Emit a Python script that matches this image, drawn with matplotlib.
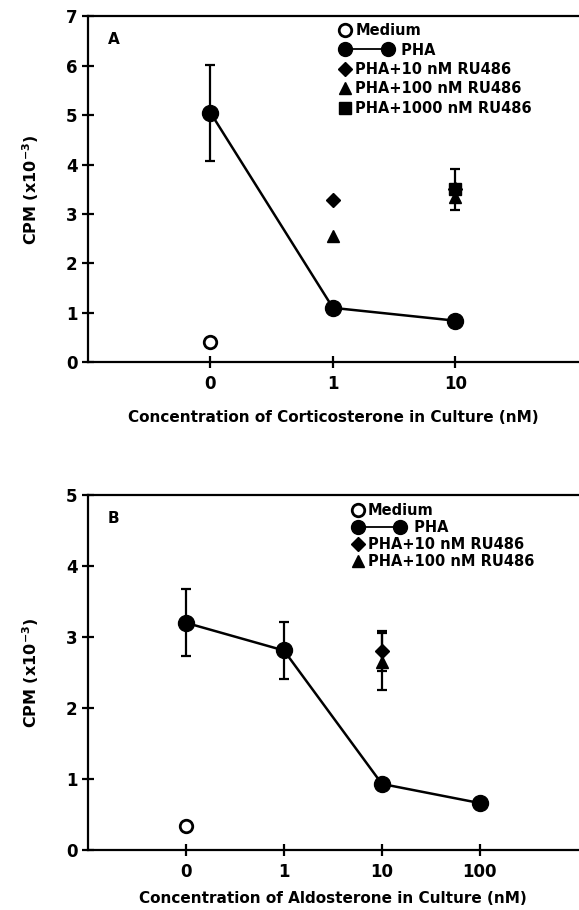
import numpy as np
import matplotlib
matplotlib.use('Agg')
import matplotlib.pyplot as plt
from matplotlib.lines import Line2D
from matplotlib.legend_handler import HandlerLine2D

plt.rcParams['font.family'] = 'DejaVu Sans'
plt.rcParams['font.weight'] = 'bold'
plt.rcParams['mathtext.default'] = 'bf'

# ---- panel A: corticosterone ----
a_ticks = ['0', '1', '10']
a_medium = [0.40]
a_pha = [5.05, 1.10, 0.84]
a_pha_err = [0.97, 0, 0]
a_ru10 = [None, 3.28, 3.50]
a_ru100 = [None, 2.55, 3.35]
a_ru1000 = [None, None, 3.50]
a_ru1000_err = [0, 0, 0.42]

# ---- panel B: aldosterone ----
b_ticks = ['0', '1', '10', '100']
b_medium = [0.34]
b_pha = [3.20, 2.81, 0.93, 0.66]
b_pha_err = [0.47, 0.40, 0, 0]
b_ru10 = [None, None, 2.80, None]
b_ru10_err = [0, 0, 0.28, 0]
b_ru100 = [None, None, 2.65, None]
b_ru100_err = [0, 0, 0.40, 0]


class LeftMarker(HandlerLine2D):
    # single marker at the left of the handle box
    def create_artists(self, legend, orig_handle, xdescent, ydescent,
                       width, height, fontsize, trans):
        y = height / 2 - ydescent
        m = Line2D([-xdescent + height * 0.45], [y])
        self.update_prop(m, orig_handle, legend)
        m.set_linestyle('none')
        m.set_transform(trans)
        return [m]


class PairMarker(HandlerLine2D):
    # marker ---- marker, longer than the box
    def create_artists(self, legend, orig_handle, xdescent, ydescent,
                       width, height, fontsize, trans):
        y = height / 2 - ydescent
        x0 = -xdescent + height * 0.45
        x1 = x0 + height * 4.2
        ln = Line2D([x0, x1], [y, y])
        self.update_prop(ln, orig_handle, legend)
        ln.set_marker('o')
        ln.set_markevery([0, 1])
        ln.set_transform(trans)
        return [ln]


def cleanup(seq):
    return np.array([np.nan if v is None else v for v in seq], dtype=float)


def style_axes(ax, ymax, ticks):
    ax.set_xlim(-1, len(ticks))
    ax.set_ylim(0, ymax)
    ax.set_xticks(range(len(ticks)))
    ax.set_xticklabels(ticks)
    ax.set_yticks(range(ymax + 1))
    ax.spines['right'].set_visible(False)
    for s in ['left', 'bottom', 'top']:
        ax.spines[s].set_linewidth(1.6)
    ax.tick_params(direction='inout', length=9, width=1.6, labelsize=12, pad=3)
    ax.tick_params(axis='x', pad=5)
    for lab in ax.get_xticklabels() + ax.get_yticklabels():
        lab.set_fontweight('bold')
    ax.set_ylabel('CPM (x10$^{-3}$)', fontsize=11.5, fontweight='bold', labelpad=18)


fig = plt.figure(figsize=(5.79, 9.10), dpi=100)
axA = fig.add_axes([0.152, 0.602, 0.846, 0.380])
axB = fig.add_axes([0.152, 0.066, 0.846, 0.390])

# panel A
xa = np.arange(len(a_ticks))
axA.errorbar(xa, a_pha, yerr=a_pha_err, fmt='o', ms=11.5, color='black',
             ecolor='black', elinewidth=1.6, capsize=3.5, capthick=1.6, zorder=3)
axA.plot(xa, a_pha, '-', color='black', lw=1.8, zorder=2)
axA.plot([0], a_medium, 'o', ms=9, mfc='white', mec='black', mew=2, zorder=3)
axA.errorbar(xa, cleanup(a_ru1000), yerr=a_ru1000_err, fmt='s', ms=9,
             color='black', elinewidth=1.6, capsize=3.5, capthick=1.6, zorder=3)
axA.plot(xa, cleanup(a_ru10), 'D', ms=7, color='black', zorder=3)
axA.plot(xa, cleanup(a_ru100), '^', ms=9, color='black', zorder=4)
style_axes(axA, 7, a_ticks)
axA.set_xlabel('Concentration of Corticosterone in Culture (nM)', fontsize=11,
               fontweight='bold', labelpad=12)
axA.text(0.04, 0.955, 'A', transform=axA.transAxes, fontsize=11,
         fontweight='bold', va='top')

# panel B
xb = np.arange(len(b_ticks))
axB.errorbar(xb, b_pha, yerr=b_pha_err, fmt='o', ms=11.5, color='black',
             ecolor='black', elinewidth=1.6, capsize=3.5, capthick=1.6, zorder=3)
axB.plot(xb, b_pha, '-', color='black', lw=1.8, zorder=2)
axB.plot([0], b_medium, 'o', ms=9, mfc='white', mec='black', mew=2, zorder=3)
axB.errorbar(xb, cleanup(b_ru10), yerr=b_ru10_err, fmt='D', ms=7, color='black',
             elinewidth=1.6, capsize=3.5, capthick=1.6, zorder=3)
axB.errorbar(xb, cleanup(b_ru100), yerr=b_ru100_err, fmt='^', ms=9, color='black',
             elinewidth=1.6, capsize=3.5, capthick=1.6, zorder=4)
style_axes(axB, 5, b_ticks)
axB.set_xlabel('Concentration of Aldosterone in Culture (nM)', fontsize=11,
               fontweight='bold', labelpad=7)
axB.text(0.04, 0.955, 'B', transform=axB.transAxes, fontsize=11,
         fontweight='bold', va='top')

# legends
h_med = Line2D([], [], marker='o', ms=9, mfc='white', mec='black', mew=2, ls='none')
h_pha = Line2D([], [], marker='o', ms=10, color='black', lw=1.3)
h_d = Line2D([], [], marker='D', ms=7, color='black', ls='none')
h_t = Line2D([], [], marker='^', ms=9, color='black', ls='none')
h_s = Line2D([], [], marker='s', ms=9, color='black', ls='none')
hmap = {h_med: LeftMarker(), h_pha: PairMarker(), h_d: LeftMarker(),
        h_t: LeftMarker(), h_s: LeftMarker()}
pha_label = '         PHA'

legA = axA.legend([h_med, h_pha, h_d, h_t, h_s],
                  ['Medium', pha_label, 'PHA+10 nM RU486', 'PHA+100 nM RU486',
                   'PHA+1000 nM RU486'],
                  handler_map=hmap, loc='upper left', bbox_to_anchor=(0.495, 1.01),
                  frameon=False, handlelength=0.9, handletextpad=0.1,
                  labelspacing=0.3, borderpad=0.2, prop={'size': 10.5, 'weight': 'bold'})
legB = axB.legend([h_med, h_pha, h_d, h_t],
                  ['Medium', pha_label, 'PHA+10 nM RU486', 'PHA+100 nM RU486'],
                  handler_map=hmap, loc='upper left', bbox_to_anchor=(0.52, 1.005),
                  frameon=False, handlelength=0.9, handletextpad=0.1,
                  labelspacing=0.12, borderpad=0.2, prop={'size': 10.5, 'weight': 'bold'})

fig.savefig('out.png', dpi=100)
